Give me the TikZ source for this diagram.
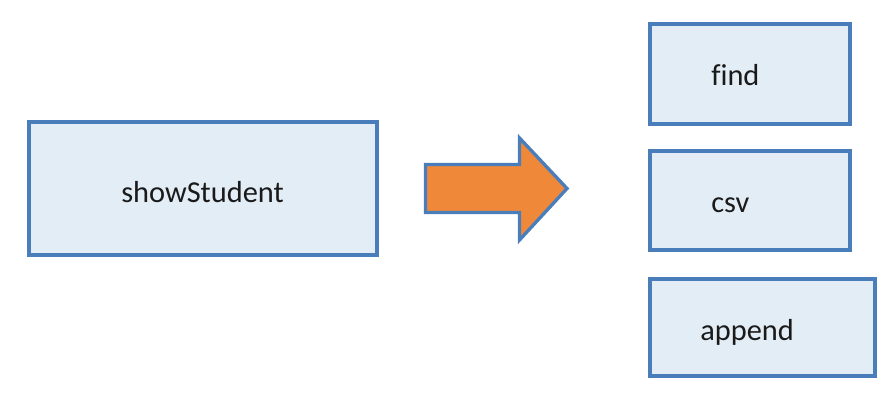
\documentclass[tikz,border=0pt]{standalone}
\usepackage{fontspec}
\setmainfont{Carlito}[Ligatures=CommonOff]
\definecolor{boxfill}{HTML}{E3EDF6}
\definecolor{boxline}{HTML}{4A7EBB}
\definecolor{arroworange}{HTML}{F0883A}
\definecolor{txt}{HTML}{1A1A1A}
\begin{document}
\begin{tikzpicture}[x=0.75pt,y=-0.75pt,
  box/.style={draw=boxline, fill=boxfill, line width=2.6pt, inner sep=0pt, rectangle},
  lbl/.style={text=txt, inner sep=0pt, anchor=base west, font=\fontsize{22.8}{27}\selectfont},
  bigarrow/.style={draw=boxline, fill=arroworange, line width=2.5pt, line join=miter}]
\useasboundingbox (0,0) rectangle (895,413);
% boxes
\node[box, minimum width=348*0.75pt, minimum height=133*0.75pt] (main) at (203,188.5) {};
\node[box, minimum width=200*0.75pt, minimum height=100*0.75pt] (find) at (750,74) {};
\node[box, minimum width=200*0.75pt, minimum height=99*0.75pt] (csv) at (750,200.5) {};
\node[box, minimum width=225*0.75pt, minimum height=97*0.75pt] (append) at (762.5,327.5) {};
% labels
\node[lbl] (tmain) at (121,203) {showStudent};
\node[lbl] (tfind) at (711,86) {find};
\node[lbl] (tcsv) at (711,213) {csv};
\node[lbl] (tappend) at (700,340) {append};
% arrow
\draw[bigarrow] (425.5,164.5) -- (519.5,164.5) -- (519.5,138) -- (567,188.5)
  -- (519.5,240) -- (519.5,212.5) -- (425.5,212.5) -- cycle;
\end{tikzpicture}
\end{document}
